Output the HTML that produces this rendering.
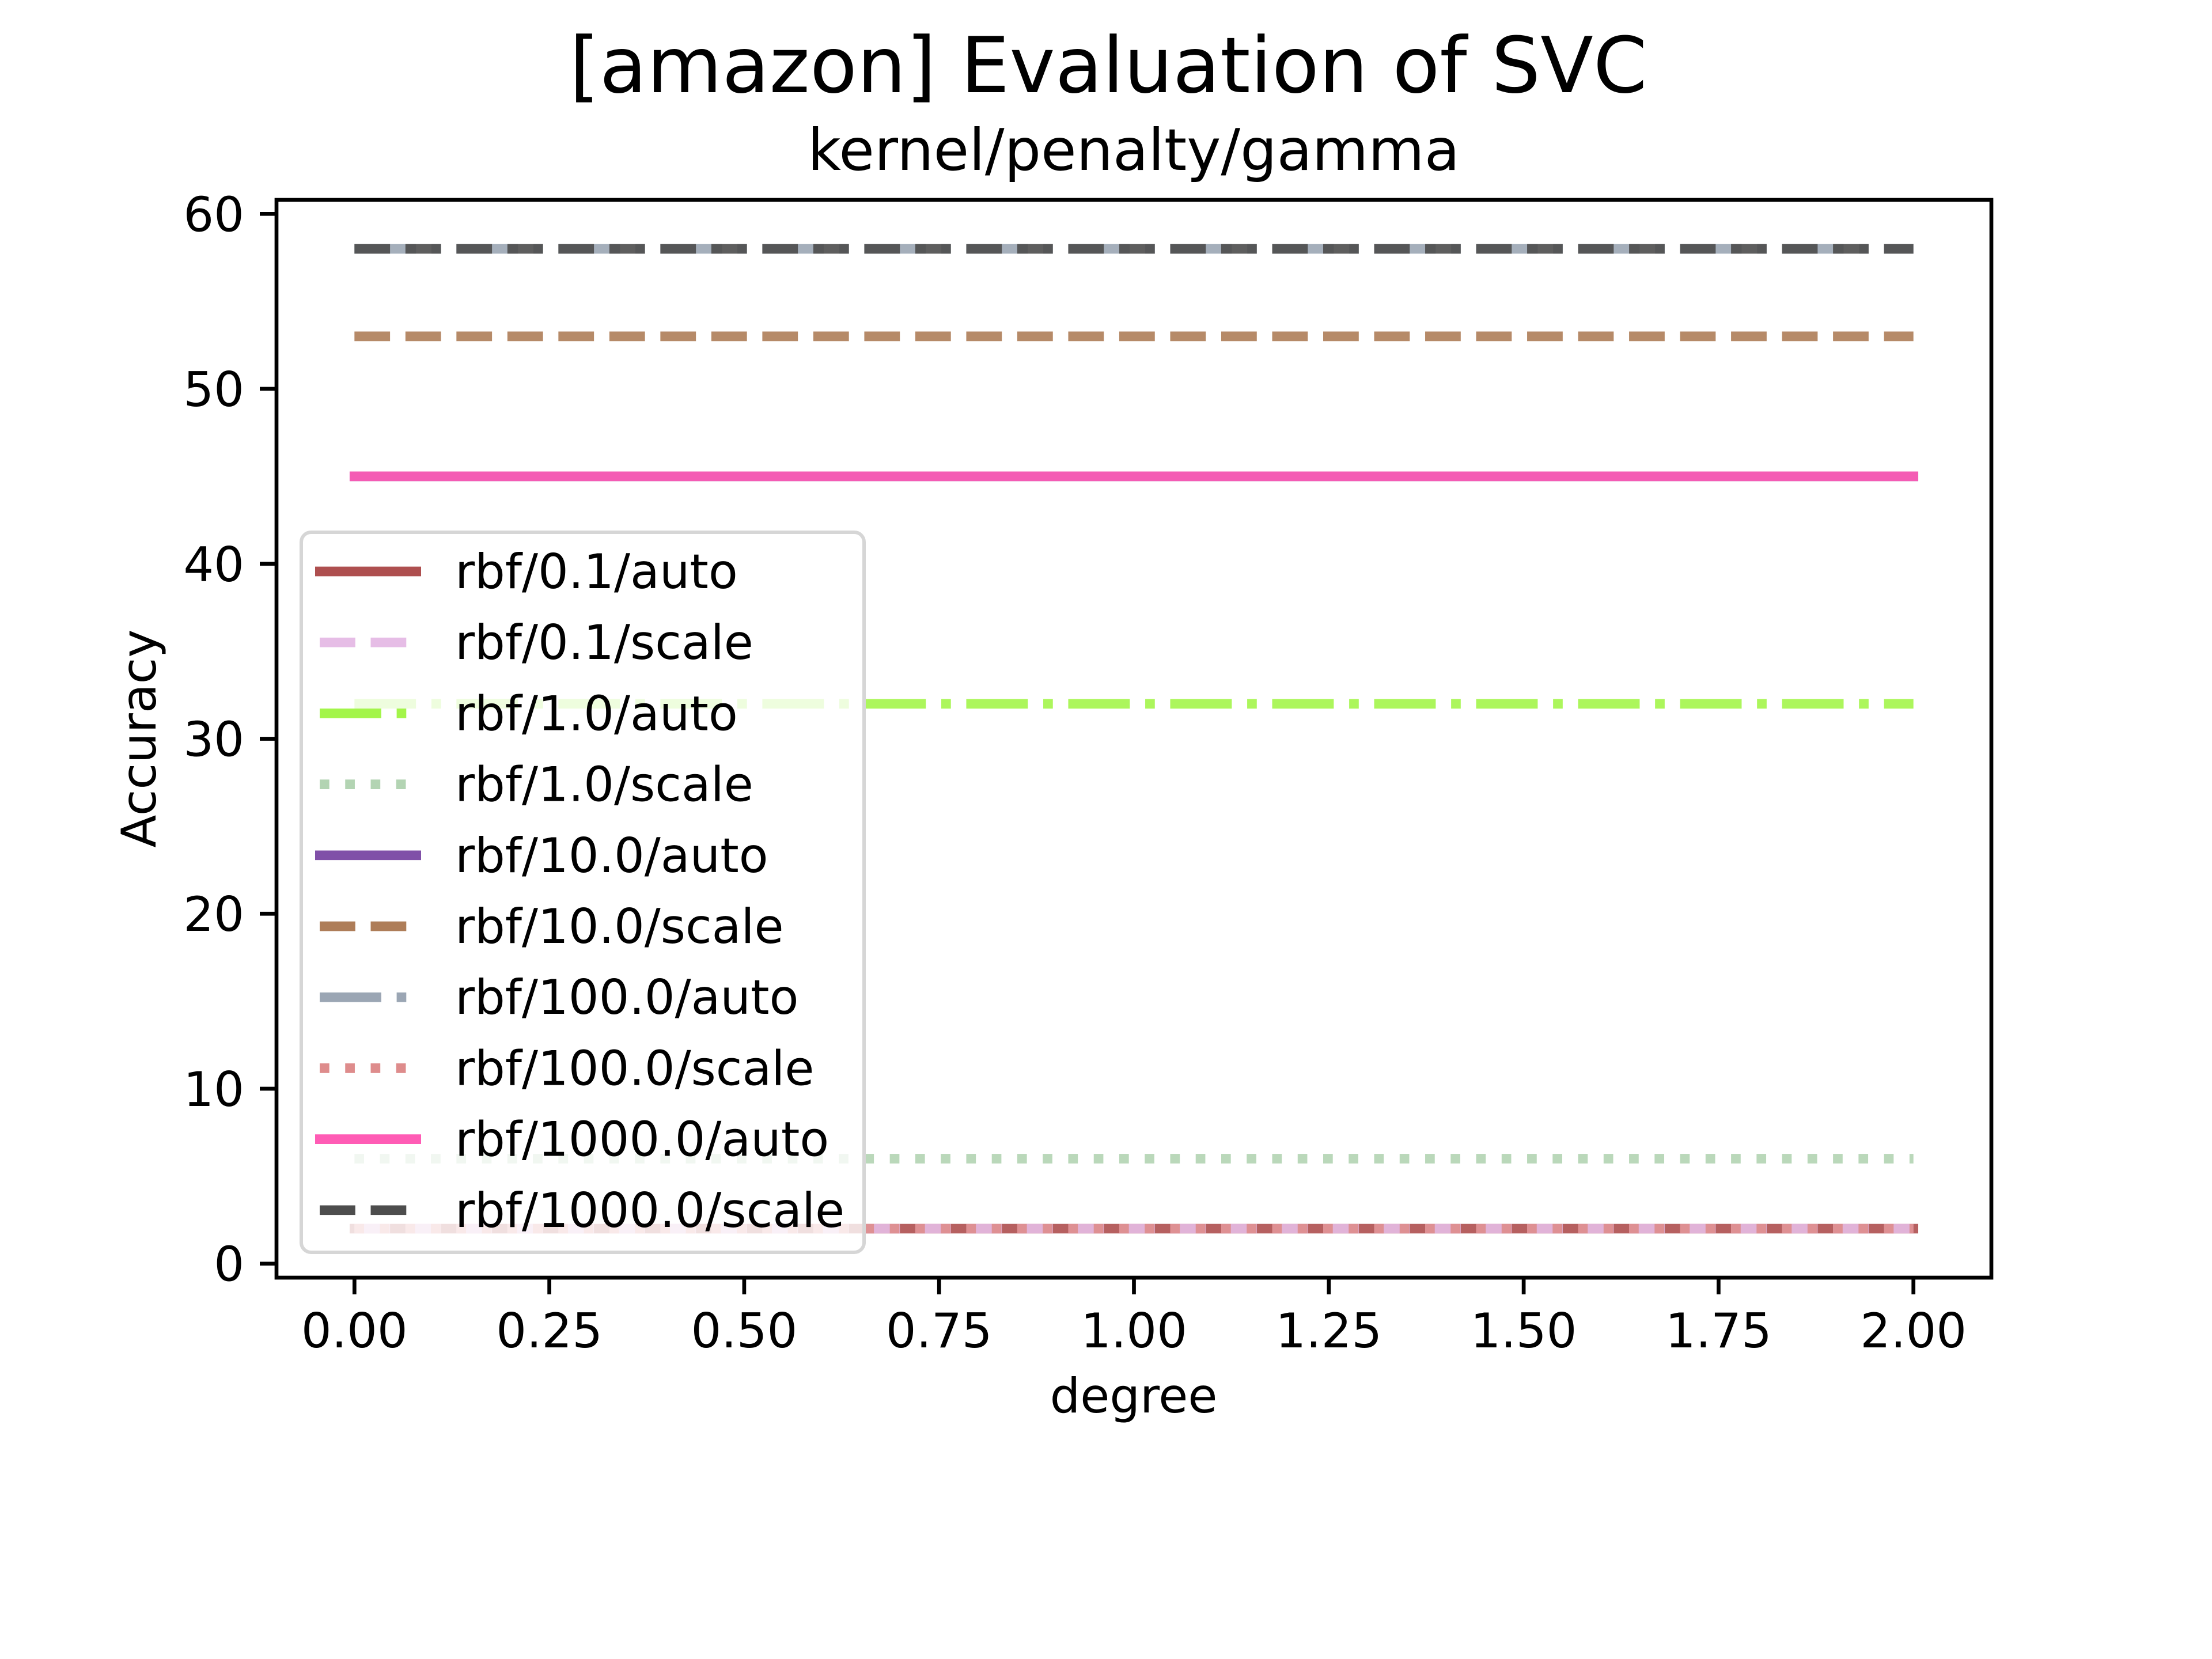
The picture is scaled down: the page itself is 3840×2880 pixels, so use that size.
<!DOCTYPE html>
<html><head><meta charset="utf-8"><style>
html,body{margin:0;padding:0;background:#fff;}
svg{display:block;font-family:"DejaVu Sans","Liberation Sans",sans-serif;}
</style></head><body>
<svg id="chart" width="3840" height="2880" viewBox="0 0 3840 2880" xmlns="http://www.w3.org/2000/svg">
<rect width="3840" height="2880" fill="#fff"/>
<text x="1924" y="160" font-size="134" text-anchor="middle">[amazon] Evaluation of SVC</text>
<text x="1968" y="295" font-size="100" text-anchor="middle">kernel/penalty/gamma</text>
<g id="plot"></g>
<g id="axes"></g>
<g id="legend"></g>
<text x="1968" y="2452" font-size="83" text-anchor="middle">degree</text>
<text x="0" y="0" font-size="83" text-anchor="middle" transform="translate(270,1282) rotate(-90)">Accuracy</text>
</svg>
<script>
const xValues = [0, 1, 2];
const seriesNames = ["rbf/0.1/auto","rbf/0.1/scale","rbf/1.0/auto","rbf/1.0/scale","rbf/10.0/auto","rbf/10.0/scale","rbf/100.0/auto","rbf/100.0/scale","rbf/1000.0/auto","rbf/1000.0/scale"];
const seriesValues = [
  [2, 2, 2],
  [2, 2, 2],
  [32, 32, 32],
  [6, 6, 6],
  [45, 45, 45],
  [53, 53, 53],
  [58, 58, 58],
  [2, 2, 2],
  [45, 45, 45],
  [58, 58, 58]
];
const seriesColors = ["#ae4f4f","#e6bde6","#a3f54a","#b3d4b3","#8050a8","#ae7d58","#9ba6b4","#de8c8c","#ff5cb5","#4d4d4d"];
const seriesStyles = ["solid","dashed","dashdot","dotted","solid","dashed","dashdot","dotted","solid","dashed"];
const xTicks = [0, 0.25, 0.5, 0.75, 1, 1.25, 1.5, 1.75, 2];
const xTickLabels = ["0.00","0.25","0.50","0.75","1.00","1.25","1.50","1.75","2.00"];
const yTicks = [0, 10, 20, 30, 40, 50, 60];
const yTickLabels = ["0","10","20","30","40","50","60"];

const NS = "http://www.w3.org/2000/svg";
const AX = {l:480, r:3457, t:347, b:2218};
const xMin = -0.1, xMax = 2.1, yMin = -0.8, yMax = 60.8;
function xs(v){ return AX.l + (v - xMin) / (xMax - xMin) * (AX.r - AX.l); }
function ys(v){ return AX.b - (v - yMin) / (yMax - yMin) * (AX.b - AX.t); }
const LW = 16.7;
const dashes = {solid:"none", dashed:(3.7*LW)+" "+(1.6*LW), dotted:(1*LW)+" "+(1.65*LW), dashdot:(6.4*LW)+" "+(1.6*LW)+" "+(1*LW)+" "+(1.6*LW)};
function mk(tag, attrs, parent){ const e=document.createElementNS(NS,tag); for(const k in attrs) e.setAttribute(k,attrs[k]); parent.appendChild(e); return e; }

const plot = document.getElementById("plot");
seriesValues.forEach((vals, i) => {
  const pts = vals.map((v, j) => xs(xValues[j]) + "," + ys(v)).join(" ");
  const pl = mk("polyline", {points: pts, fill: "none", stroke: seriesColors[i], "stroke-width": LW, "stroke-dasharray": dashes[seriesStyles[i]], "stroke-linecap": seriesStyles[i]==="solid" ? "square" : "butt", opacity: 0.9}, plot);
  
  
});

const axes = document.getElementById("axes");
const frame = mk("rect", {x: AX.l, y: AX.t, width: AX.r - AX.l, height: AX.b - AX.t, fill: "none", stroke: "#000", "stroke-width": 6.7}, axes);


xTicks.forEach((t, i) => {
  const x = xs(t);
  const tk = mk("line", {x1: x, x2: x, y1: AX.b, y2: AX.b + 29, stroke: "#000", "stroke-width": 6.7}, axes);
  
  
  const lb = mk("text", {x: x, y: 2339, "font-size": 83, "text-anchor": "middle"}, axes);
  lb.textContent = xTickLabels[i];
  
  
});
yTicks.forEach((t, i) => {
  const y = ys(t);
  const tk = mk("line", {x1: AX.l - 29, x2: AX.l, y1: y, y2: y, stroke: "#000", "stroke-width": 6.7}, axes);
  
  
  const lb = mk("text", {x: 424, y: y + 30, "font-size": 83, "text-anchor": "end"}, axes);
  lb.textContent = yTickLabels[i];
  
  
});

const legend = document.getElementById("legend");
const box = mk("rect", {x: 523, y: 924, width: 977, height: 1250, rx: 17, ry: 17, fill: "#fff", "fill-opacity": 0.8, stroke: "#d6d6d6", "stroke-width": 6}, legend);


seriesNames.forEach((name, i) => {
  const cy = 992 + i * 123.2;
  const g = mk("g", {}, legend);
  
  
  const st = seriesStyles[i];
  mk("line", {x1: st==="solid" ? 547 : 555, x2: st==="solid" ? 731 : 722, y1: cy, y2: cy, stroke: seriesColors[i], "stroke-width": LW, "stroke-dasharray": dashes[st]}, g);
  const tx = mk("text", {x: 790, y: cy + 29, "font-size": 83}, g);
  tx.textContent = name;
});
</script>
</body></html>
